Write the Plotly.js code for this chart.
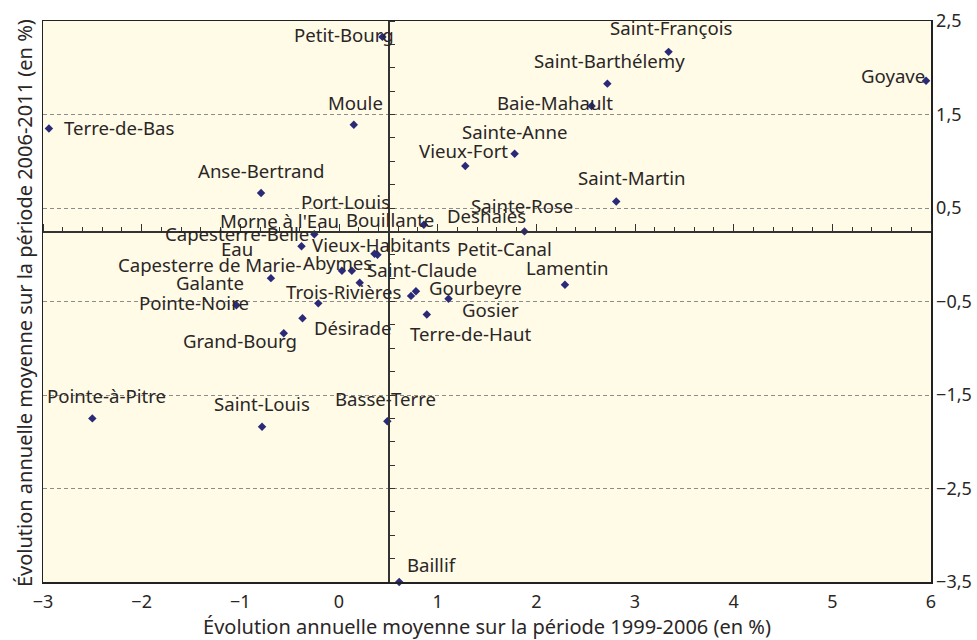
<!DOCTYPE html>
<html>
<head>
<meta charset="utf-8">
<script src="https://cdn.plot.ly/plotly-3.0.1.min.js"></script>
<style>
  html, body { margin: 0; padding: 0; background: #ffffff; }
  #chart { width: 977px; height: 640px; }
</style>
</head>
<body>
<div id="chart"></div>
<script>
// ---- Data ----
const communes = ["Petit-Bourg","Saint-François","Saint-Barthélemy","Baie-Mahault","Goyave","Moule","Terre-de-Bas","Sainte-Anne","Vieux-Fort","Anse-Bertrand","Saint-Martin","Bouillante","Sainte-Rose","Morne-à-l'Eau","Capesterre-Belle-Eau","Vieux-Habitants","Port-Louis","Abymes","Saint-Claude","Capesterre-de-Marie-Galante","Deshaies","Trois-Rivières","Petit-Canal","Gourbeyre","Gosier","Terre-de-Haut","Désirade","Grand-Bourg","Pointe-Noire","Lamentin","Pointe-à-Pitre","Saint-Louis","Basse-Terre","Baillif"];
const evol1999_2006 = [0.44,3.34,2.72,2.56,5.95,0.15,-2.94,1.78,1.28,-0.79,2.81,0.86,1.88,-0.25,-0.38,0.36,0.39,0.03,0.13,-0.69,0.21,-0.21,0.78,0.73,1.11,0.89,-0.37,-0.56,-1.04,2.29,-2.50,-0.78,0.49,0.61];
const evol2006_2011 = [2.33,2.17,1.83,1.59,1.86,1.39,1.35,1.08,0.95,0.66,0.57,0.32,0.25,0.22,0.09,0.01,0.00,-0.17,-0.17,-0.25,-0.30,-0.52,-0.39,-0.44,-0.47,-0.64,-0.68,-0.84,-0.54,-0.32,-1.75,-1.84,-1.78,-3.50];
const pointLabels = ["Petit-Bourg","Saint-François","Saint-Barthélemy","Baie-Mahault","Goyave","Moule","Terre-de-Bas","Sainte-Anne","Vieux-Fort","Anse-Bertrand","Saint-Martin","Bouillante","Sainte-Rose","Morne à l'Eau","Capesterre-Belle<br>Eau","Vieux-Habitants","Port-Louis","Abymes","Saint-Claude","Capesterre de Marie-<br>Galante","Deshaies","Trois-Rivières","Petit-Canal","Gourbeyre","Gosier","Terre-de-Haut","Désirade","Grand-Bourg","Pointe-Noire","Lamentin","Pointe-à-Pitre","Saint-Louis","Basse-Terre","Baillif"];
const xTickVals = [-3,-2,-1,0,1,2,3,4,5,6];
const yTickVals = [-3.5,-2.5,-1.5,-0.5,0.5,1.5,2.5];
const meanX = 0.5;   // vertical reference line
const meanY = 0.25;  // horizontal reference line

// ---- Label placement (pixel offsets from each point: dx, dy up, line gap) ----
const labelDx = [-38,2,2,-37,-33,2,70,0,-2,0,16,-33.5,-2,-35,-65,7,-32,-4,70,-61,127,26,89,64,42,44,50,-43.5,-42,2.5,14,0,-1.5,33];
const labelDy = [2,24,23,4,5,22,1,22,15,23,24,5,25.5,14,12.5,9,53,8,1,14,67,12,43,8.5,-11,-19,-9,-7,2.5,17.5,23,23,23,18];
const lineGap = {14: 15, 19: 18.5};

const FONT = "Noto Sans, Open Sans, sans-serif";
const TXT = "#2a2626";
const fs = 18.6;
const tfs = 20;

const XR = [-3, 6], YR = [-3.5, 2.5];

const annotations = [];
pointLabels.forEach((lab, i) => {
  const lines = lab.split("<br>");
  lines.forEach((ln, j) => {
    annotations.push({
      x: evol1999_2006[i], y: evol2006_2011[i], xref: "x", yref: "y",
      text: ln, showarrow: false, xanchor: "center", yanchor: "middle",
      xshift: labelDx[i], yshift: labelDy[i] - j * (lineGap[i] || 15),
      font: {family: FONT, size: fs, color: TXT}
    });
  });
});
annotations.push({
  xref: "paper", yref: "paper", x: -0.0215, y: 0.497, xanchor: "center", yanchor: "middle",
  text: "Évolution annuelle moyenne sur la période 2006-2011 (en %)", textangle: -90,
  showarrow: false, font: {family: FONT, size: tfs, color: TXT}
});

const traces = [
  {
    type: "scatter", mode: "markers",
    x: evol1999_2006, y: evol2006_2011, text: communes,
    hovertemplate: "%{text}<br>%{x}<br>%{y}<extra></extra>",
    marker: {symbol: "diamond", size: 6.5, color: "#2b2a78"},
    cliponaxis: false, showlegend: false
  },
  {
    type: "scatter", mode: "markers", x: [null], y: [null],
    xaxis: "x2", yaxis: "y2", hoverinfo: "skip", showlegend: false
  }
];

const layout = {
  width: 977, height: 640,
  margin: {l: 43, r: 46, t: 21, b: 58},
  paper_bgcolor: "#ffffff", plot_bgcolor: "#fffbe6",
  separators: ", ",
  font: {family: FONT, size: 18, color: TXT},
  showlegend: false,
  xaxis: {
    range: XR, tickvals: xTickVals, ticks: "", showgrid: false, zeroline: false,
    showline: true, mirror: true, linecolor: "#222", linewidth: 1.5,
    ticklabelstandoff: 3,
    tickfont: {family: FONT, size: 18, color: TXT},
    title: {text: "Évolution annuelle moyenne sur la période 1999-2006 (en %)",
            font: {family: FONT, size: tfs, color: TXT}, standoff: 5}
  },
  yaxis: {
    range: YR, side: "right", tickvals: yTickVals, tickformat: ".1f", ticks: "",
    showgrid: true, gridcolor: "#8c8c8c", gridwidth: 1, griddash: "4px,3px",
    zeroline: false, showline: true, mirror: true, linecolor: "#222", linewidth: 1.5,
    tickfont: {family: FONT, size: 18, color: TXT}
  },
  xaxis2: {
    overlaying: "x", anchor: "free", position: (meanY - YR[0]) / (YR[1] - YR[0]),
    side: "top", range: XR, showline: true, linecolor: "#333", linewidth: 1.5,
    ticks: "outside", tick0: 0, dtick: 1, ticklen: 7, tickcolor: "#333",
    minor: {dtick: 0.2, ticks: "outside", ticklen: 4, tickcolor: "#333"},
    showticklabels: false, showgrid: false, zeroline: false
  },
  yaxis2: {
    overlaying: "y", anchor: "free", position: (meanX - XR[0]) / (XR[1] - XR[0]),
    side: "right", range: YR, showline: true, linecolor: "#333", linewidth: 1.5,
    ticks: "outside", tick0: 0.5, dtick: 0.25, ticklen: 5, tickcolor: "#333",
    showticklabels: false, showgrid: false, zeroline: false
  },
  annotations: annotations
};

Plotly.newPlot("chart", traces, layout, {displayModeBar: false, staticPlot: true});
</script>
</body>
</html>
